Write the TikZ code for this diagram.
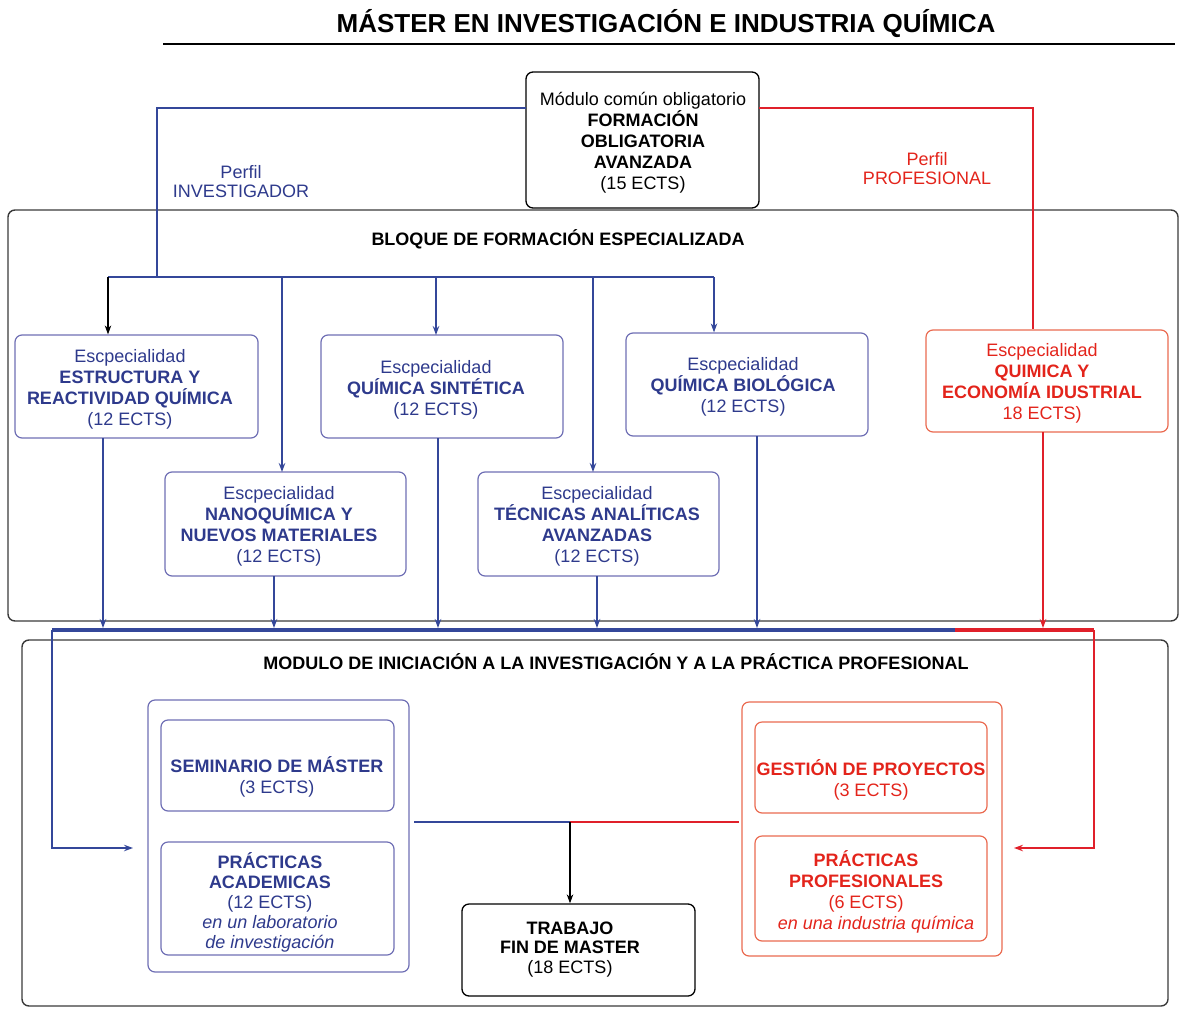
\documentclass[tikz,border=0pt]{standalone}
\usepackage{fontspec}
\setmainfont{Liberation Sans}
\usetikzlibrary{fit,arrows.meta}
\definecolor{navy}{HTML}{2E3A8C}
\definecolor{blueline}{HTML}{34479A}
\definecolor{bluebox}{HTML}{6E6EB4}
\definecolor{redtext}{HTML}{E3241B}
\definecolor{redline}{HTML}{E0202A}
\definecolor{redbox}{HTML}{EA6A50}
\definecolor{graybox}{HTML}{3A3A3A}
\tikzset{
  txt/.style={align=center, inner sep=0pt, font=\fontsize{18}{21}\selectfont},
  framebox/.style={draw=graybox, line width=1.4pt, rounded corners=7pt, inner sep=0pt},
  blackbox/.style={draw=black, line width=1.3pt, rounded corners=7pt, inner sep=0pt},
  bbox/.style={draw=bluebox, line width=1.2pt, rounded corners=7pt, inner sep=0pt},
  rbox/.style={draw=redbox, line width=1.2pt, rounded corners=7pt, inner sep=0pt},
  bline/.style={draw=blueline, line width=1.3pt},
  rline/.style={draw=redline, line width=1.3pt},
  tip/.style={-{Stealth[length=9pt,width=6.5pt]}},
}
\begin{document}
\begin{tikzpicture}[x=1pt,y=-1pt]
\useasboundingbox (0,0) rectangle (1183,1017);

% title
\node[txt] (ttl) at (666,24) {\fontsize{26}{30}\selectfont\bfseries MÁSTER EN INVESTIGACIÓN E INDUSTRIA QUÍMICA};
\coordinate (ulA) at (163,44);
\coordinate (ulB) at (1175,44);
\draw[line width=1.5pt] (ulA) -- (ulB);

% frames
\node[framebox, fit={(8,210)(1178,621)}] (bloque) {};
\node[framebox, fit={(22,640)(1168,1006)}] (modulo) {};
\node[txt] (bloqueT) at (558,239.5) {\bfseries BLOQUE DE FORMACIÓN ESPECIALIZADA};
\node[txt] (moduloT) at (616,661.5) {\bfseries MODULO DE INICIACIÓN A LA INVESTIGACIÓN Y A LA PRÁCTICA PROFESIONAL};

% top module
\node[blackbox, fill=white, fit={(526,72)(759,208)}] (top) {};
\node[txt] (topT) at (643,143) {Módulo común obligatorio\\\textbf{FORMACIÓN}\\\textbf{OBLIGATORIA}\\\textbf{AVANZADA}\\(15 ECTS)};

\node[txt, text=navy, font=\fontsize{18}{19}\selectfont] (perfI) at (241,182) {Perfil\\INVESTIGADOR};
\node[txt, text=redtext, font=\fontsize{18}{19}\selectfont] (perfP) at (927,168.5) {Perfil\\PROFESIONAL};

% specialities
\node[bbox, fit={(15,335)(258,438)}] (estr) {};
\node[bbox, fit={(321,335)(563,438)}] (sint) {};
\node[bbox, fit={(626,333)(868,436)}] (biol) {};
\node[rbox, fit={(926,330)(1168,432)}] (qe) {};
\node[bbox, fit={(165,472)(406,576)}] (nano) {};
\node[bbox, fit={(478,472)(719,576)}] (tecn) {};

\node[txt, text=navy] (estrT) at (130,389) {Escpecialidad\\\textbf{ESTRUCTURA Y}\\\textbf{REACTIVIDAD QUÍMICA}\\(12 ECTS)};
\node[txt, text=navy] (sintT) at (436,390) {Escpecialidad\\\textbf{QUÍMICA SINTÉTICA}\\(12 ECTS)};
\node[txt, text=navy] (biolT) at (743,386.5) {Escpecialidad\\\textbf{QUÍMICA BIOLÓGICA}\\(12 ECTS)};
\node[txt, text=redtext] (qeT) at (1042,383.5) {Escpecialidad\\\textbf{QUIMICA Y}\\\textbf{ECONOMÍA IDUSTRIAL}\\18 ECTS)};
\node[txt, text=navy] (nanoT) at (279,526) {Escpecialidad\\\textbf{NANOQUÍMICA Y}\\\textbf{NUEVOS MATERIALES}\\(12 ECTS)};
\node[txt, text=navy] (tecnT) at (597,526) {Escpecialidad\\\textbf{TÉCNICAS ANALÍTICAS}\\\textbf{AVANZADAS}\\(12 ECTS)};

% investigator branch
\coordinate (tl) at (526,108);
\coordinate (bcorner) at (157,108);
\coordinate (bjoin) at (157,277);
\coordinate (busL) at (108,277);
\coordinate (busR) at (714,277);
\draw[bline] (tl) -- (bcorner) -- (bjoin);
\draw[bline] (busL) -- (busR);
\draw[line width=1.3pt, tip] (busL) -- (busL |- estr.north);
\draw[bline, tip] (282,277) -- (282,472);
\draw[bline, tip] (436,277) -- (436,335);
\draw[bline, tip] (593,277) -- (593,472);
\draw[bline, tip] (busR) -- (busR |- biol.north);

% professional branch
\coordinate (tr) at (759,108);
\coordinate (rcorner) at (1033,108);
\draw[rline] (tr) -- (rcorner) -- (rcorner |- qe.north);

% bottom bars
\coordinate (barL) at (52,630);
\coordinate (barM) at (955,630);
\coordinate (barR) at (1094,630);
\draw[blueline, line width=4pt] (barL) -- (barM);
\draw[redline, line width=4pt] (barM) -- (barR);

\draw[bline, tip] (103,438) -- (103,628);
\draw[bline, tip] (274,576) -- (274,628);
\draw[bline, tip] (438,438) -- (438,628);
\draw[bline, tip] (597,576) -- (597,628);
\draw[bline, tip] (757,436) -- (757,628);
\draw[rline, tip] (1043,432) -- (1043,628);

% module groups
\node[bbox, fit={(148,700)(409,972)}] (lgrp) {};
\node[bbox, fit={(161,720)(394,811)}] (sem) {};
\node[bbox, fit={(161,842)(394,955)}] (pacad) {};
\node[rbox, fit={(742,702)(1002,956)}] (rgrp) {};
\node[rbox, fit={(755,722)(987,813)}] (gest) {};
\node[rbox, fit={(755,836)(987,941)}] (pprof) {};
\node[blackbox, fit={(462,904)(695,996)}] (tfm) {};

\node[txt, text=navy] (semT) at (277,776.5) {\textbf{SEMINARIO DE MÁSTER}\\(3 ECTS)};
\node[txt, text=navy, font=\fontsize{18}{20}\selectfont] (pacadT) at (270,902.5) {\textbf{PRÁCTICAS}\\\textbf{ACADEMICAS}\\(12 ECTS)\\\textit{en un laboratorio}\\\textit{de investigación}};
\node[txt, text=redtext] (gestT) at (871,779.5) {\textbf{GESTIÓN DE PROYECTOS}\\(3 ECTS)};
\node[txt, text=redtext] (pprofT) at (866,892) {\textbf{PRÁCTICAS}\\\textbf{PROFESIONALES}\\(6 ECTS)\\\textit{\ \ \ \ en una industria química}};
\node[txt, font=\fontsize{18}{19.5}\selectfont] (tfmT) at (570,949.5) {\textbf{TRABAJO}\\\textbf{FIN DE MASTER}\\(18 ECTS)};

% entry connectors
\coordinate (lcorner) at (52,848);
\coordinate (lend) at (133,848);
\coordinate (rcorner2) at (1094,848);
\coordinate (rend) at (1014,848);
\draw[bline, tip] (barL) -- (lcorner) -- (lend);
\draw[rline, tip] (barR) -- (rcorner2) -- (rend);

% to TFM
\coordinate (mjoin) at (570,822);
\coordinate (mL) at (414,822);
\coordinate (mR) at (739,822);
\draw[bline] (mL) -- (mjoin);
\draw[rline] (mjoin) -- (mR);
\draw[line width=1.3pt, tip] (mjoin) -- (mjoin |- tfm.north);
\end{tikzpicture}
\end{document}
